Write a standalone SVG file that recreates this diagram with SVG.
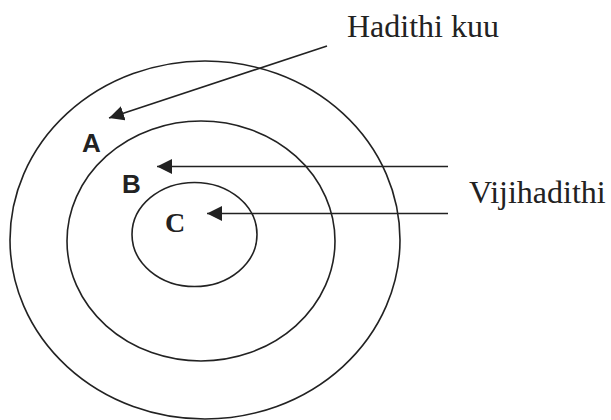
<svg xmlns="http://www.w3.org/2000/svg" width="611" height="420" viewBox="0 0 611 420">
<style>
.ring{fill:none;stroke:#222;stroke-width:1.6}
.conn{fill:none;stroke:#222;stroke-width:1.6}
.serif{font-family:"Liberation Serif","Times New Roman",serif;fill:#222}
.sans{font-family:"Liberation Sans",Arial,sans-serif;font-weight:bold;fill:#222}
</style>
<defs>
<marker id="ah" viewBox="0 0 15 15" refX="15" refY="7.5" markerWidth="15" markerHeight="15" markerUnits="userSpaceOnUse" orient="auto">
<path d="M0,0 L15,7.5 L0,15 z" fill="#222"/>
</marker>
</defs>
<rect width="611" height="420" fill="#fff"/>
<g id="outer">
<ellipse class="ring" cx="205" cy="240" rx="195" ry="179"/>
<text class="sans" x="82" y="152" font-size="26">A</text>
</g>
<g id="middle">
<ellipse class="ring" cx="201" cy="241" rx="134" ry="120"/>
<text class="sans" x="122" y="193" font-size="26">B</text>
</g>
<g id="inner">
<ellipse class="ring" cx="194.5" cy="234.5" rx="62.5" ry="52"/>
<text class="serif" x="165" y="232" font-size="28" font-weight="bold">C</text>
</g>
<g id="label-hadithi">
<text class="serif" x="347" y="37" font-size="32">Hadithi kuu</text>
</g>
<g id="label-vijihadithi">
<text class="serif" x="469" y="203" font-size="32">Vijihadithi</text>
</g>
<g id="connectors">
<line class="conn" x1="327" y1="46" x2="109" y2="118" marker-end="url(#ah)"/>
<line class="conn" x1="448" y1="166.5" x2="157" y2="166.5" marker-end="url(#ah)"/>
<line class="conn" x1="448" y1="213.5" x2="207" y2="213.5" marker-end="url(#ah)"/>
</g>
</svg>
